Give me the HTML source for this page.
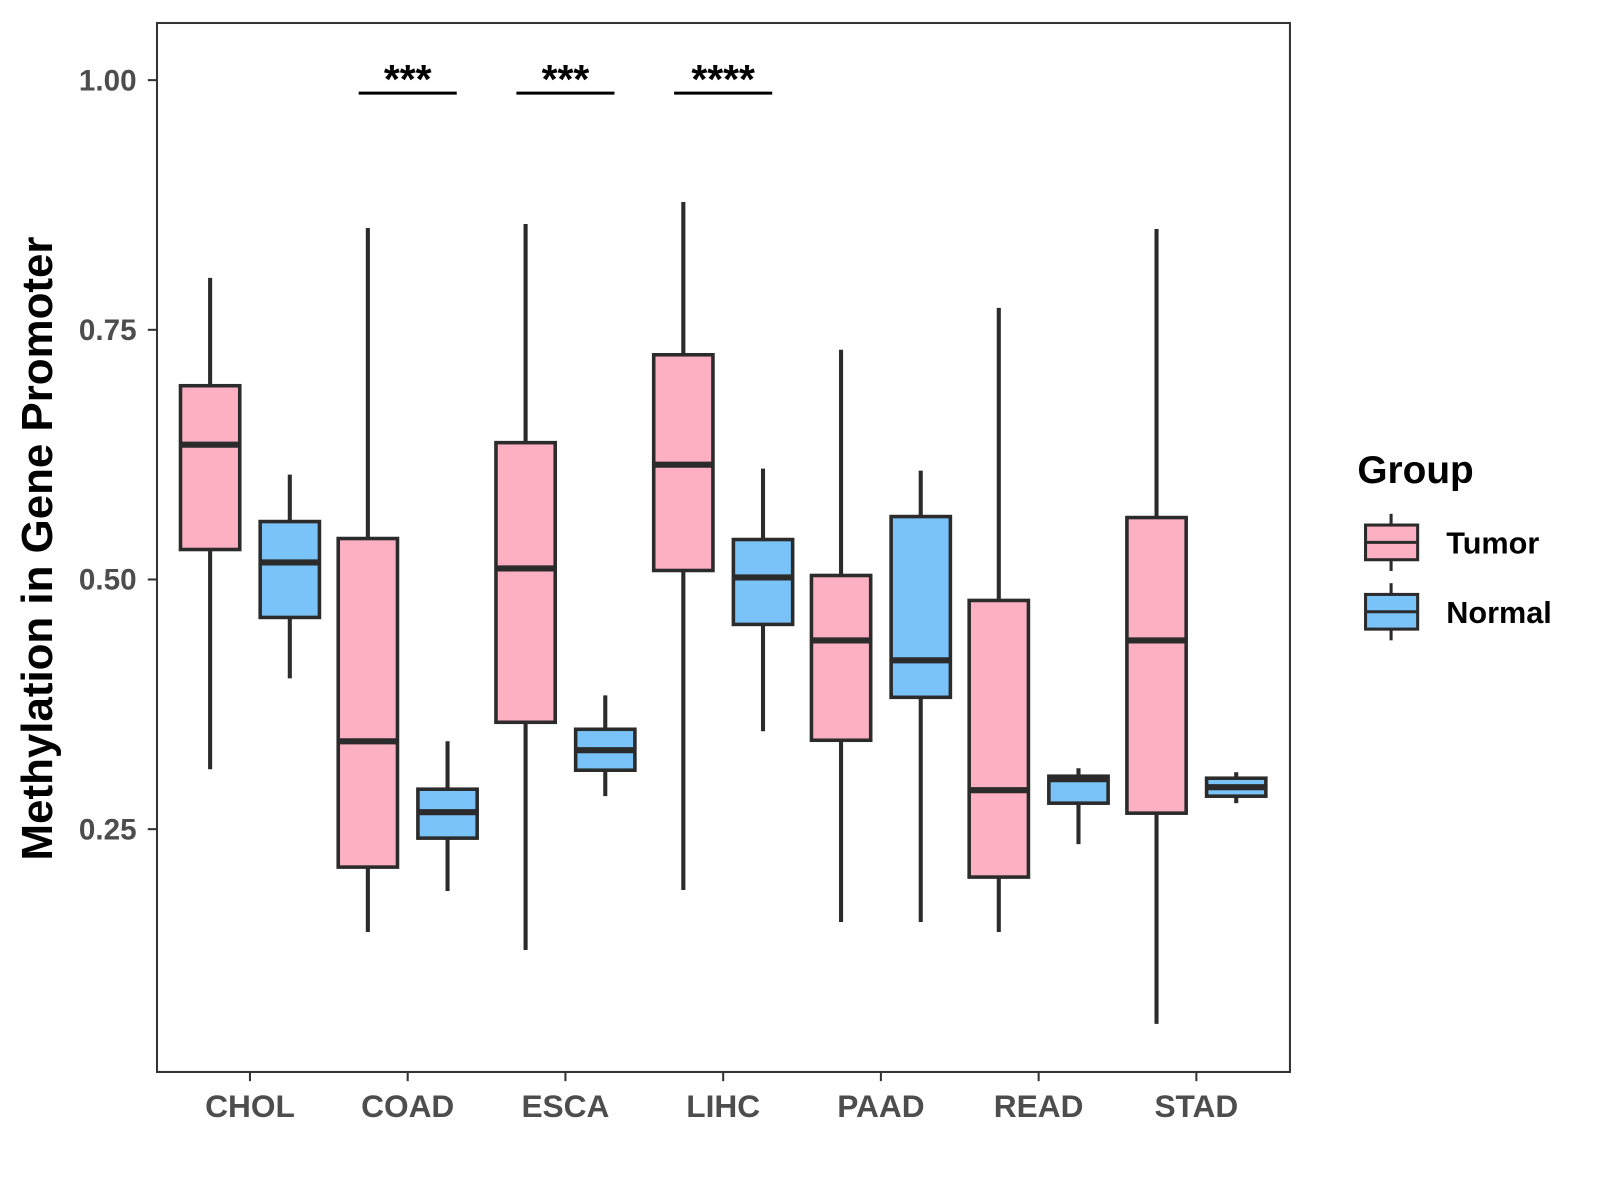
<!DOCTYPE html>
<html><head><meta charset="utf-8"><style>body{margin:0;background:#fff}svg{display:block}</style></head>
<body>
<svg width="1600" height="1200" xmlns="http://www.w3.org/2000/svg" font-family="Liberation Sans, sans-serif"><g id="chart" transform="matrix(1.0216,0,0,1.0204,-1.35,0.55)"></g></svg>
<script>
const categories=["CHOL","COAD","ESCA","LIHC","PAAD","READ","STAD"];
const groups=["Tumor","Normal"];
// [min, q1, median, q3, max]
const tumorStats=[[0.310,0.530,0.635,0.694,0.802],[0.147,0.212,0.338,0.541,0.852],[0.129,0.357,0.511,0.637,0.856],[0.189,0.509,0.615,0.725,0.878],[0.157,0.339,0.439,0.504,0.730],[0.147,0.202,0.289,0.479,0.772],[0.055,0.266,0.439,0.562,0.851]];
const normalStats=[[0.401,0.462,0.517,0.558,0.605],[0.188,0.241,0.267,0.290,0.338],[0.283,0.309,0.329,0.350,0.384],[0.348,0.455,0.502,0.540,0.611],[0.157,0.382,0.419,0.563,0.609],[0.235,0.276,0.300,0.303,0.311],[0.276,0.283,0.292,0.301,0.307]];
const yTicks=[0.25,0.50,0.75,1.00];
const yTickLabels=["0.25","0.50","0.75","1.00"];
const sigCats=["COAD","ESCA","LIHC"];
const sigLabels=["***","***","****"];
const sigY=0.987;

const NS="http://www.w3.org/2000/svg";
const svg=document.getElementById('chart');
const L=155,R=1264,T=22,B=1050;
const y=v=>78+(1-v)*978.7;
const x=i=>246+i*154.4;
const colors={Tumor:"#FCB0C2",Normal:"#7AC3F8"};
function el(tag,attrs,parent){const e=document.createElementNS(NS,tag);for(const k in attrs)e.setAttribute(k,attrs[k]);(parent||svg).appendChild(e);return e;}
const panel=el('rect',{x:L,y:T,width:R-L,height:B-T,fill:'#fff',stroke:'#333','stroke-width':2});


yTicks.forEach((t,i)=>{
  const tk=el('line',{x1:L-9,x2:L,y1:y(t),y2:y(t),stroke:'#333','stroke-width':2});
  
  
  const tx=el('text',{x:L-20,y:y(t)+10,'text-anchor':'end','font-size':29,'font-weight':'bold',fill:'#4d4d4d'});
  tx.textContent=yTickLabels[i];
  
  
});
categories.forEach((c,i)=>{
  const tk=el('line',{x1:x(i),x2:x(i),y1:B,y2:B+9,stroke:'#333','stroke-width':2});
  
  
  const tx=el('text',{x:x(i),y:1094,'text-anchor':'middle','font-size':31,'font-weight':'bold',fill:'#4d4d4d'});
  tx.textContent=c;
  
  
  [[tumorStats[i],-39,'Tumor'],[normalStats[i],39,'Normal']].forEach(([s,dx,g])=>{
    const cx=x(i)+dx,w=58;
    const gEl=el('g',{});
    
    
    el('line',{x1:cx,x2:cx,y1:y(s[4]),y2:y(s[0]),stroke:'#2b2b2b','stroke-width':4},gEl);
    el('rect',{x:cx-w/2,y:y(s[3]),width:w,height:y(s[1])-y(s[3]),fill:colors[g],stroke:'#2b2b2b','stroke-width':3.5},gEl);
    el('line',{x1:cx-w/2,x2:cx+w/2,y1:y(s[2]),y2:y(s[2]),stroke:'#2b2b2b','stroke-width':6},gEl);
  });
});
sigCats.forEach((c,k)=>{
  const i=categories.indexOf(c);
  const ln=el('line',{x1:x(i)-48,x2:x(i)+48,y1:y(sigY),y2:y(sigY),stroke:'#000','stroke-width':3});
  
  
  const tx=el('text',{x:x(i),y:y(sigY),'text-anchor':'middle','font-size':40,'font-weight':'bold',fill:'#000'});
  tx.textContent=sigLabels[k];
  
  
});
const yt=el('text',{x:0,y:0,transform:'translate(52,537) rotate(-90)','text-anchor':'middle','font-size':43,'font-weight':'bold',fill:'#000'});
yt.textContent='Methylation in Gene Promoter';


const lt=el('text',{x:1330,y:473,'font-size':38,'font-weight':'bold',fill:'#000'});
lt.textContent='Group';


groups.forEach((g,k)=>{
  const cy=531+k*68;
  const ge=el('g',{});
  
  
  el('line',{x1:1363,x2:1363,y1:cy-28,y2:cy+28,stroke:'#2b2b2b','stroke-width':3},ge);
  el('rect',{x:1338,y:cy-17,width:51,height:34,fill:colors[g],stroke:'#2b2b2b','stroke-width':3},ge);
  el('line',{x1:1338,x2:1389,y1:cy,y2:cy,stroke:'#2b2b2b','stroke-width':3},ge);
  const t=el('text',{x:1417,y:cy+11,'font-size':30,'font-weight':'bold',fill:'#000'},ge);
  t.textContent=g;
});
</script>
</body></html>
